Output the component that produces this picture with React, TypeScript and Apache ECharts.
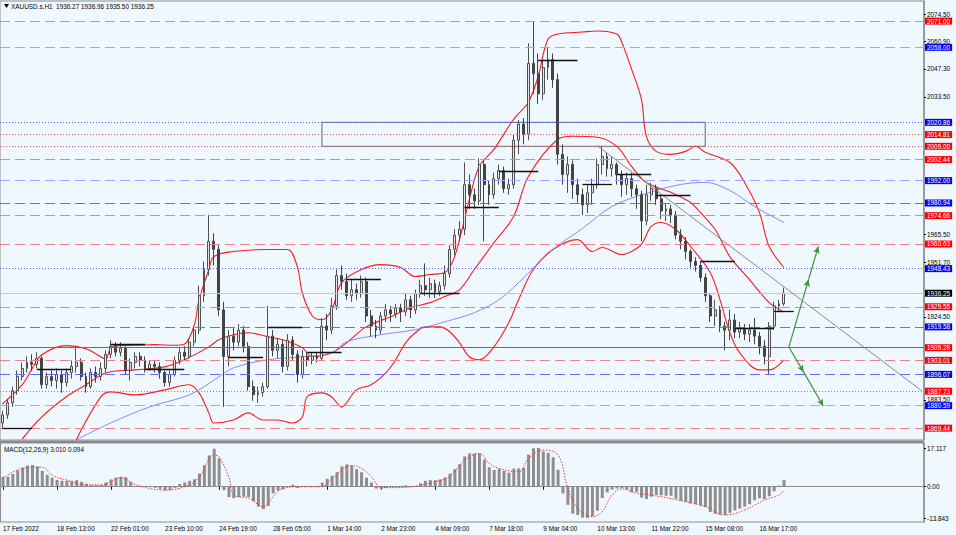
import React, { useEffect, useRef } from "react";
import * as echarts from "echarts";

const FONT = "Liberation Sans";
const FS = 6.4;

// time axis labels, one every LABEL_STEP candles (each candle = 3 H1 bars)
const timeLabels = [
  "17 Feb 2022", "18 Feb 13:00", "22 Feb 01:00", "23 Feb 10:00", "24 Feb 19:00",
  "28 Feb 05:00", "1 Mar 14:00", "2 Mar 23:00", "4 Mar 09:00", "7 Mar 18:00",
  "9 Mar 04:00", "10 Mar 13:00", "11 Mar 22:00", "15 Mar 08:00", "16 Mar 17:00",
];
const LABEL_STEP = 11;
const SLOTS = 188;

// [open, close, low, high]
const candles = [
  [1872, 1876, 1869, 1878], [1876, 1882, 1874, 1884], [1882, 1888, 1880, 1890], [1888, 1895, 1886, 1898],
  [1895, 1899, 1893, 1902], [1899, 1902, 1897, 1905], [1902, 1901, 1898, 1906], [1901, 1904, 1899, 1907],
  [1904, 1891, 1889, 1905], [1891, 1895, 1889, 1897], [1895, 1893, 1890, 1898], [1893, 1896, 1889, 1899],
  [1896, 1892, 1887, 1898], [1892, 1897, 1890, 1899], [1897, 1900, 1894, 1903], [1900, 1902, 1897, 1909],
  [1902, 1895, 1893, 1904], [1895, 1890, 1887, 1897], [1890, 1897, 1889, 1899], [1897, 1895, 1892, 1900],
  [1895, 1899, 1893, 1902], [1899, 1906, 1897, 1908], [1906, 1910, 1904, 1913], [1910, 1907, 1905, 1912],
  [1907, 1909, 1905, 1912], [1909, 1898, 1896, 1910], [1898, 1902, 1893, 1904], [1902, 1905, 1899, 1907],
  [1905, 1903, 1900, 1907], [1903, 1899, 1897, 1905], [1899, 1901, 1898, 1903], [1901, 1900, 1897, 1903],
  [1900, 1897, 1894, 1902], [1897, 1892, 1890, 1898], [1892, 1896, 1890, 1898], [1896, 1903, 1895, 1905],
  [1903, 1907, 1901, 1909], [1907, 1905, 1903, 1910], [1905, 1912, 1904, 1914], [1912, 1918, 1910, 1920],
  [1918, 1935, 1916, 1940], [1935, 1948, 1932, 1952], [1948, 1962, 1945, 1975], [1962, 1958, 1950, 1966],
  [1958, 1928, 1925, 1960], [1928, 1905, 1880, 1932], [1905, 1915, 1900, 1918], [1915, 1912, 1908, 1919],
  [1912, 1918, 1910, 1921], [1918, 1910, 1907, 1920], [1910, 1890, 1888, 1912], [1890, 1886, 1883, 1893],
  [1886, 1887, 1882, 1890], [1887, 1890, 1885, 1892], [1890, 1915, 1889, 1930], [1915, 1908, 1905, 1918],
  [1908, 1911, 1904, 1914], [1911, 1900, 1897, 1913], [1900, 1913, 1898, 1916], [1913, 1906, 1903, 1915],
  [1906, 1896, 1892, 1908], [1896, 1905, 1894, 1908], [1905, 1903, 1900, 1907], [1903, 1905, 1901, 1907],
  [1905, 1904, 1902, 1907], [1904, 1920, 1903, 1924], [1920, 1918, 1913, 1926], [1918, 1930, 1916, 1934],
  [1930, 1945, 1928, 1948], [1945, 1942, 1938, 1950], [1942, 1935, 1933, 1946], [1935, 1938, 1932, 1943],
  [1938, 1936, 1933, 1941], [1936, 1942, 1934, 1945], [1942, 1925, 1922, 1944], [1925, 1920, 1915, 1928],
  [1920, 1918, 1914, 1923], [1918, 1925, 1916, 1927], [1925, 1928, 1922, 1931], [1928, 1926, 1922, 1930],
  [1926, 1929, 1924, 1931], [1929, 1927, 1922, 1931], [1927, 1933, 1925, 1936], [1933, 1928, 1924, 1935],
  [1928, 1936, 1926, 1938], [1936, 1940, 1934, 1943], [1940, 1938, 1935, 1951], [1938, 1941, 1934, 1944],
  [1941, 1937, 1934, 1943], [1937, 1940, 1935, 1942], [1940, 1946, 1938, 1950], [1946, 1958, 1944, 1960],
  [1958, 1965, 1955, 1968], [1965, 1968, 1962, 1972], [1968, 1990, 1965, 2001], [1990, 1985, 1978, 1995],
  [1985, 1982, 1978, 1988], [1982, 2000, 1980, 2003], [2000, 1990, 1962, 2002], [1990, 1985, 1980, 1992],
  [1985, 1993, 1983, 1996], [1993, 1997, 1990, 2000], [1997, 1988, 1986, 1999], [1988, 1990, 1985, 1993],
  [1990, 2012, 1988, 2015], [2012, 2020, 2005, 2022], [2020, 2015, 2010, 2023], [2015, 2050, 2012, 2060],
  [2050, 2045, 2035, 2071], [2045, 2035, 2030, 2055], [2035, 2048, 2032, 2052], [2048, 2052, 2042, 2058],
  [2052, 2042, 2038, 2055], [2042, 2005, 2000, 2045], [2005, 1995, 1990, 2010], [1995, 2000, 1986, 2004],
  [2000, 1990, 1983, 2002], [1990, 1985, 1981, 1993], [1985, 1980, 1975, 1988], [1980, 1986, 1976, 1990],
  [1986, 1990, 1980, 1993], [1990, 2000, 1988, 2003], [2000, 2004, 1995, 2009], [2004, 1998, 1994, 2006],
  [1998, 2000, 1994, 2004], [2000, 1995, 1990, 2001], [1995, 1990, 1984, 1997], [1990, 1993, 1985, 1996],
  [1993, 1988, 1984, 1996], [1988, 1985, 1978, 1990], [1985, 1972, 1962, 1987], [1972, 1985, 1970, 1990],
  [1985, 1988, 1982, 1991], [1988, 1983, 1980, 1990], [1983, 1977, 1973, 1985], [1977, 1978, 1972, 1981],
  [1978, 1975, 1971, 1980], [1975, 1965, 1963, 1977], [1965, 1962, 1958, 1968], [1962, 1957, 1953, 1964],
  [1957, 1952, 1949, 1958], [1952, 1950, 1947, 1954], [1950, 1944, 1942, 1952], [1944, 1935, 1932, 1946],
  [1935, 1925, 1922, 1936], [1925, 1928, 1920, 1933], [1928, 1920, 1917, 1930], [1920, 1918, 1908, 1922],
  [1918, 1923, 1913, 1928], [1923, 1917, 1914, 1926], [1917, 1919, 1914, 1922], [1919, 1916, 1913, 1921],
  [1916, 1918, 1912, 1921], [1918, 1915, 1911, 1924], [1915, 1910, 1906, 1917], [1910, 1905, 1901, 1913],
  [1905, 1920, 1896, 1922], [1920, 1930, 1918, 1932], [1930, 1931, 1927, 1933], [1931, 1936.25, 1930, 1939],
];

// Bollinger bands and moving average: [candle index, price]
const bbUpper = [
  [0, 1881.5], [4, 1890.9], [6, 1898.8], [8, 1905.8], [13, 1910.3], [17, 1908.8], [20, 1904.8], [21, 1903.5],
  [22, 1909.3], [23, 1910.3], [27, 1910.5], [31, 1910.8], [35, 1910.5], [37, 1911], [39, 1920.2], [40, 1933],
  [42, 1948], [43, 1954.4], [47, 1956.9], [54, 1957.9], [58, 1957.9], [60, 1949.4], [61, 1936.5], [63, 1925.1],
  [65, 1923.1], [67, 1928.1], [69, 1941.5], [73, 1948], [77, 1950.4], [81, 1949], [84, 1944.5], [87, 1945.5],
  [90, 1946.5], [92, 1954.4], [95, 1982.7], [97, 1999], [100, 2007.5], [104, 2022.4], [107, 2030.8], [109, 2043.7],
  [111, 2062.1], [113, 2064.6], [118, 2065.6], [121, 2066.1], [125, 2064.6], [126, 2060.6], [128, 2047.2],
  [130, 2032.3], [131, 2014], [133, 2006.5], [136, 2005], [139, 2006.5], [141, 2009], [143, 2006], [148, 2001],
  [151, 1991.1], [154, 1976.3], [156, 1959.4], [159, 1949],
];
const bbMiddle = [
  [4, 1864], [8, 1875], [13, 1885], [17, 1890.9], [21, 1896.8], [27, 1898.3], [33, 1899.8], [37, 1903.3],
  [42, 1909.7], [44, 1913.2], [47, 1915.7], [50, 1916.7], [54, 1914.7], [57, 1913.2], [61, 1909.3], [63, 1904.8],
  [67, 1906.8], [70, 1911.7], [74, 1919.6], [79, 1924.6], [83, 1929.1], [87, 1931.6], [90, 1934.6], [93, 1938],
  [96, 1948], [100, 1961.3], [104, 1974.2], [107, 1994.1], [113, 2012.5], [116, 2014], [121, 2013.5], [125, 2009],
  [128, 1999.1], [131, 1991.1], [136, 1986.2], [140, 1981.2], [142, 1976.3], [145, 1967.8], [148, 1954.4],
  [152, 1943], [156, 1931.6], [159, 1927],
];
const bbLower = [
  [15, 1863.6], [20, 1884.9], [22, 1887.4], [27, 1885.9], [33, 1888.4], [38, 1890.9], [40, 1886.9], [42, 1877],
  [43, 1872], [47, 1873.5], [50, 1877], [53, 1873.5], [56, 1873.5], [59, 1872], [61, 1875], [62, 1885],
  [65, 1886.9], [67, 1884.9], [69, 1880], [72, 1888.4], [75, 1890.9], [78, 1896.8], [80, 1903.3], [82, 1911.7],
  [84, 1916.7], [86, 1919.6], [89, 1919.6], [91, 1917.2], [93, 1911.7], [95, 1904.8], [97, 1903.3], [100, 1909.7],
  [103, 1921.6], [105, 1933], [108, 1948], [112, 1957.9], [117, 1962.8], [120, 1956.9], [122, 1958.9],
  [126, 1955.4], [128, 1956.9], [130, 1960.4], [132, 1969.3], [134, 1971.3], [137, 1967.8], [140, 1959.4],
  [144, 1946.5], [146, 1933], [148, 1916.7], [150, 1906.8], [154, 1898.3], [156, 1898.3], [159, 1903.3],
];
const maLine = [
  [15, 1863.6], [22, 1872], [30, 1880], [37, 1885], [40, 1888.4], [44, 1894.8], [47, 1899.3], [54, 1903.3],
  [61, 1904.8], [67, 1906.8], [70, 1912.2], [77, 1915.7], [84, 1918.2], [90, 1922.1], [96, 1926.6], [101, 1933],
  [105, 1941.5], [112, 1957.9], [118, 1968.3], [124, 1979.2], [131, 1985.7], [138, 1990.1], [143, 1991.1],
  [148, 1987.1], [153, 1979.2], [159, 1971.3],
];

// MACD histogram, one value per candle
const macdHist = [
  4.4, 4.4, 5.6, 7.2, 8.5, 9.4, 9.6, 9.0, 7.0, 5.3,
  4.0, 3.0, 2.6, 2.6, 2.6, 2.9, 2.2, 1.3, 0.7, 0.7,
  0.8, 1.9, 3.2, 4.0, 4.4, 4.2, 2.2, 0.3, 0.1, 0.0,
  -0.2, -0.5, -1.0, -1.6, -1.5, -0.5, 1.2, 1.9, 2.6, 3.3,
  5.8, 9.5, 13.8, 16.8, 12.5, -1.5, -4.6, -5.1, -4.6, -4.4,
  -4.6, -6.4, -8.8, -9.9, -8.5, -3.0, -1.8, -1.2, 0.0, 0.9,
  -0.6, 0.1, 0.2, 0.3, 0.2, 1.8, 3.5, 4.8, 6.4, 9.0,
  9.9, 9.4, 7.8, 6.4, 4.0, 1.8, -0.8, -0.9, -0.6, -0.3,
  -0.3, -0.2, 0.6, 0.2, 0.1, 1.5, 2.6, 2.9, 2.9, 3.2,
  4.1, 5.8, 7.8, 10.0, 13.4, 14.7, 14.7, 14.7, 12.0, 8.6,
  7.4, 7.9, 7.0, 6.2, 8.0, 8.1, 8.3, 14.2, 17.0, 17.2,
  15.6, 15.0, 13.0, 7.5, -3.0, -8.0, -11.9, -12.5, -13.7, -13.8,
  -13.0, -10.6, -5.0, -2.5, -1.3, -0.8, -0.7, -1.3, -2.5, -2.3,
  -4.8, -5.4, -4.4, -3.6, -3.8, -4.0, -4.0, -5.3, -6.2, -6.8,
  -7.4, -7.8, -8.3, -9.0, -11.2, -12.0, -12.3, -12.4, -11.6, -10.5,
  -9.7, -8.8, -7.7, -6.0, -5.1, -5.4, -4.2, -2.0, 0.5, 3.0,
];
const macdSignal = [
  [0, 3.7], [4, 8.1], [8, 8.6], [10, 5.1], [13, 2.9], [17, 0.8], [20, 0.8], [24, 4.0], [27, 0.9], [33, -1.5],
  [38, 0.9], [40, 4.4], [43, 14], [44, 13.2], [46, 4.0], [47, -3.7], [50, -5.1], [53, -8.8], [55, -4.4],
  [57, -0.7], [61, 0], [65, 0], [67, 3.7], [71, 9.3], [73, 8.1], [75, 4.4], [77, -0.4], [81, -0.4], [85, 0.7],
  [88, 2.2], [91, 4.6], [94, 11.8], [97, 14.7], [99, 10.3], [101, 8.1], [105, 6.6], [107, 12.5], [110, 16.2],
  [113, 14], [115, -0.7], [117, -9.6], [120, -13.2], [122, -11], [124, -3.7], [126, -1.0], [129, -2.9],
  [132, -3.7], [139, -6.6], [143, -8.8], [147, -12.5], [151, -10.3], [155, -5.9], [158, -3.7], [159, -1.5],
];

const priceTicks = [2074.5, 2060.9, 2047.3, 2033.5, 1965.5, 1951.7, 1924.5, 1883.5];
const macdTicks = [17.117, 0, -13.843];

// horizontal levels
const levels = [2071.0, 2058.0, 2020.86, 2014.81, 2009.0, 2002.44, 1992.0, 1980.94, 1974.66, 1960.63,
  1948.43, 1929.55, 1919.58, 1909.28, 1903.01, 1896.07, 1887.73, 1880.59, 1869.44];
const levelKinds = ["rDash", "bDashL", "bDot", "rDot", "rDot", "rDash", "bDashL", "bDash", "rDash", "rDash",
  "bDot", "rDash", "bDash", "rSolid", "rDash", "bDash", "rDot", "bDashL", "rDash"];
const lastPrice = 1936.25;

// swing segments: [from index, to index, price]
const swings = [
  [0, 6, 1869.5], [7, 14, 1898.8], [22, 29, 1911.2], [29, 37, 1898.8], [46, 53, 1904.4], [54, 61, 1919.5],
  [62, 69, 1907.0], [70, 77, 1943.0], [85, 93, 1936.4], [94, 101, 1979.0], [101, 109, 1996.6],
  [109, 117, 2051.7], [118, 124, 1990.4], [125, 132, 1995.1], [133, 140, 1984.7], [142, 149, 1951.9],
  [149, 157, 1919.0], [157, 161, 1927.3],
];
const trendRise = [[40, 1863.1], [187, 2068.7]];
const trendFall = [[121, 2009.3], [187, 1888.0]];
const arrowUp = [[160, 1909.6], [164, 1943], [166, 1959.4]];
const arrowDown = [[160, 1909.6], [163, 1897.3], [167, 1880.4]];
const zone = [[65, 2020.86], [143, 2009.0]];

const kindStyle: Record<string, any> = {
  rDash: { color: "#f08282", type: [10, 5], width: 1 },
  rDot: { color: "#f05a5a", type: [1, 2], width: 1 },
  rSolid: { color: "#ff3030", type: "solid", width: 1.2 },
  bDash: { color: "#6a6aff", type: [10, 5], width: 1 },
  bDashL: { color: "#a4a4ff", type: [10, 5], width: 1.2 },
  bDot: { color: "#5a5aff", type: [1, 2], width: 1 },
};

function levelLabel(bg: string) {
  return {
    show: true,
    position: "end",
    distance: 1,
    formatter: (p: any) => Number(p.value).toFixed(2),
    color: "#ffffff",
    backgroundColor: bg,
    padding: [1, 2, 0, 2],
    fontSize: FS,
    fontFamily: FONT,
  };
}

export default function App() {
  const ref = useRef<HTMLDivElement>(null);

  useEffect(() => {
    document.body.style.margin = "0";
    if (!ref.current) return;
    const chart = echarts.init(ref.current, undefined, { renderer: "svg" });
    const cats = Array.from({ length: SLOTS }, (_, i) => String(i));
    const isLabel = (i: number) => i % LABEL_STEP === 0 && i / LABEL_STEP < timeLabels.length;

    const levelLines: any[] = levels.map((v, k) => {
      const kind = levelKinds[k];
      return {
        yAxis: v,
        lineStyle: { ...kindStyle[kind] },
        label: levelLabel(kind[0] === "r" ? "#ff0000" : "#0000ff"),
      };
    });
    levelLines.push({
      yAxis: lastPrice,
      lineStyle: { color: "#c4c8cc", type: "solid", width: 1 },
      label: levelLabel("#000000"),
    });

    const pair = (a: number[], b: number[], style: any, endSymbol = "none") => [
      { coord: a, symbol: "none", lineStyle: { ...style }, label: { show: false } },
      { coord: b, symbol: endSymbol, symbolSize: [5, 7], lineStyle: { ...style }, label: { show: false } },
    ];
    const black = { color: "#111111", width: 1.3, type: "solid" };
    const gray = { color: "#8a8a8a", width: 1, type: "solid" };
    const green = { color: "#3a953a", width: 1.2, type: "solid" };

    const swingLines: any[] = swings.map((s) => pair([s[0], s[2]], [s[1], s[2]], black));
    const trendLines: any[] = [
      pair(trendRise[0], trendRise[1], gray),
      pair(trendFall[0], trendFall[1], gray),
    ];
    const arrowLines: any[] = [
      pair(arrowUp[0], arrowUp[1], green, "arrow"),
      pair(arrowUp[1], arrowUp[2], green, "arrow"),
      pair(arrowDown[0], arrowDown[1], green, "arrow"),
      pair(arrowDown[1], arrowDown[2], green, "arrow"),
    ];

    const bandLine = (data: number[][], color: string, width: number, extra: any = {}) => ({
      type: "line",
      xAxisIndex: 0,
      yAxisIndex: 0,
      data,
      smooth: 0.35,
      symbol: "none",
      silent: true,
      lineStyle: { color, width },
      z: 3,
      ...extra,
    });
    const marker = (data: any[], style: any) => ({
      type: "line",
      xAxisIndex: 0,
      yAxisIndex: 0,
      data: [],
      silent: true,
      markLine: {
        silent: true,
        symbol: ["none", "none"],
        lineStyle: { ...style },
        label: { show: false },
        data,
      },
    });

    chart.setOption({
      animation: false,
      backgroundColor: "#f0f8ff",
      textStyle: { fontFamily: FONT },
      grid: [
        { left: 0, right: 32, top: 1, bottom: 95, show: true, borderColor: "#8c8c8c", borderWidth: 1, backgroundColor: "transparent" },
        { left: 0, right: 32, top: 443, bottom: 13, show: true, borderColor: "#8c8c8c", borderWidth: 1, backgroundColor: "transparent" },
      ],
      xAxis: [
        {
          type: "category", gridIndex: 0, data: cats, boundaryGap: true,
          axisLine: { show: false }, axisTick: { show: false }, axisLabel: { show: false }, splitLine: { show: false },
        },
        {
          type: "category", gridIndex: 1, data: cats, boundaryGap: true,
          axisLine: { show: true, lineStyle: { color: "#8c8c8c" } },
          axisTick: { show: true, alignWithLabel: true, interval: (i: number) => isLabel(i), length: 3, lineStyle: { color: "#000" } },
          axisLabel: {
            show: true, interval: (i: number) => isLabel(i), align: "left", margin: 3,
            formatter: (_v: string, i: number) => timeLabels[i / LABEL_STEP] ?? "",
            fontSize: FS, fontFamily: FONT, color: "#000",
          },
          splitLine: { show: false },
        },
      ],
      yAxis: [
        {
          type: "value", gridIndex: 0, position: "right", min: 1863.58, max: 2080.95,
          splitLine: { show: false },
          axisLine: { show: true, lineStyle: { color: "#8c8c8c", width: 1.5 } },
          axisTick: { show: true, customValues: priceTicks, length: 2, lineStyle: { color: "#000" } },
          axisLabel: {
            show: true, customValues: priceTicks, margin: 3, fontSize: FS, fontFamily: FONT, color: "#000",
            formatter: (v: number) => v.toFixed(2),
          },
        },
        {
          type: "value", gridIndex: 1, position: "right", min: -15.61, max: 19.33,
          splitLine: { show: false },
          axisLine: { show: true, lineStyle: { color: "#8c8c8c", width: 1.5 } },
          axisTick: { show: true, customValues: macdTicks, length: 2, lineStyle: { color: "#000" } },
          axisLabel: {
            show: true, customValues: macdTicks, margin: 3, fontSize: FS, fontFamily: FONT, color: "#000",
            formatter: (v: number) => (v === 0 ? "0.00" : String(v)),
          },
        },
      ],
      graphic: [
        { type: "rect", shape: { x: 0, y: 440.5, width: 924, height: 2.5 }, style: { fill: "#8a8a8a" }, silent: true },
        { type: "polygon", shape: { points: [[4, 4], [9, 4], [6.5, 8]] }, style: { fill: "#000" }, silent: true },
        {
          type: "text", x: 11, y: 6.5,
          style: { text: "XAUUSD.s,H1  1936.27 1936.96 1935.50 1936.25", fill: "#000", font: `${FS}px "${FONT}"`, verticalAlign: "middle" },
          silent: true,
        },
        {
          type: "text", x: 4, y: 449,
          style: { text: "MACD(12,26,9) 3.010 0.094", fill: "#000", font: `${FS}px "${FONT}"`, verticalAlign: "middle" },
          silent: true,
        },
      ],
      series: [
        // horizontal levels (own carrier series)
        {
          type: "line",
          xAxisIndex: 0,
          yAxisIndex: 0,
          data: [],
          silent: true,
          z: 1,
          markLine: {
            silent: true,
            symbol: ["none", "none"],
            data: levelLines,
          },
        },
        marker(trendLines, gray),
        {
          type: "candlestick",
          xAxisIndex: 0,
          yAxisIndex: 0,
          data: candles,
          barWidth: 2.4,
          silent: true,
          z: 4,
          itemStyle: {
            color: "#e6e6e6", borderColor: "#505050",
            color0: "#444444", borderColor0: "#444444", borderWidth: 1,
          },
          markArea: {
            silent: true,
            itemStyle: { color: "rgba(0,0,0,0)", borderColor: "#6f8f95", borderWidth: 1.3 },
            data: [[
              { coord: zone[0], itemStyle: { color: "rgba(0,0,0,0)", borderColor: "#6f8f95", borderWidth: 1.3 } },
              { coord: zone[1] },
            ]],
          },
        },
        bandLine(bbUpper, "#ff1a1a", 1.1),
        bandLine(bbMiddle, "#ff1a1a", 1.1),
        bandLine(bbLower, "#ff1a1a", 1.1),
        bandLine(maLine, "#7b7bff", 0.9),
        { ...marker(swingLines, black), z: 6 },
        { ...marker(arrowLines, green), z: 6 },
        {
          type: "bar",
          xAxisIndex: 1,
          yAxisIndex: 1,
          data: macdHist,
          barWidth: 3,
          silent: true,
          itemStyle: { color: "#8e8e8e" },
        },
        {
          type: "line",
          xAxisIndex: 1,
          yAxisIndex: 1,
          data: macdSignal,
          smooth: 0.4,
          symbol: "none",
          silent: true,
          lineStyle: { color: "#ff3030", width: 1, type: [1.5, 1.5] },
          z: 5,
        },
      ],
    });

    return () => chart.dispose();
  }, []);

  return <div ref={ref} style={{ width: 956, height: 535 }} />;
}
